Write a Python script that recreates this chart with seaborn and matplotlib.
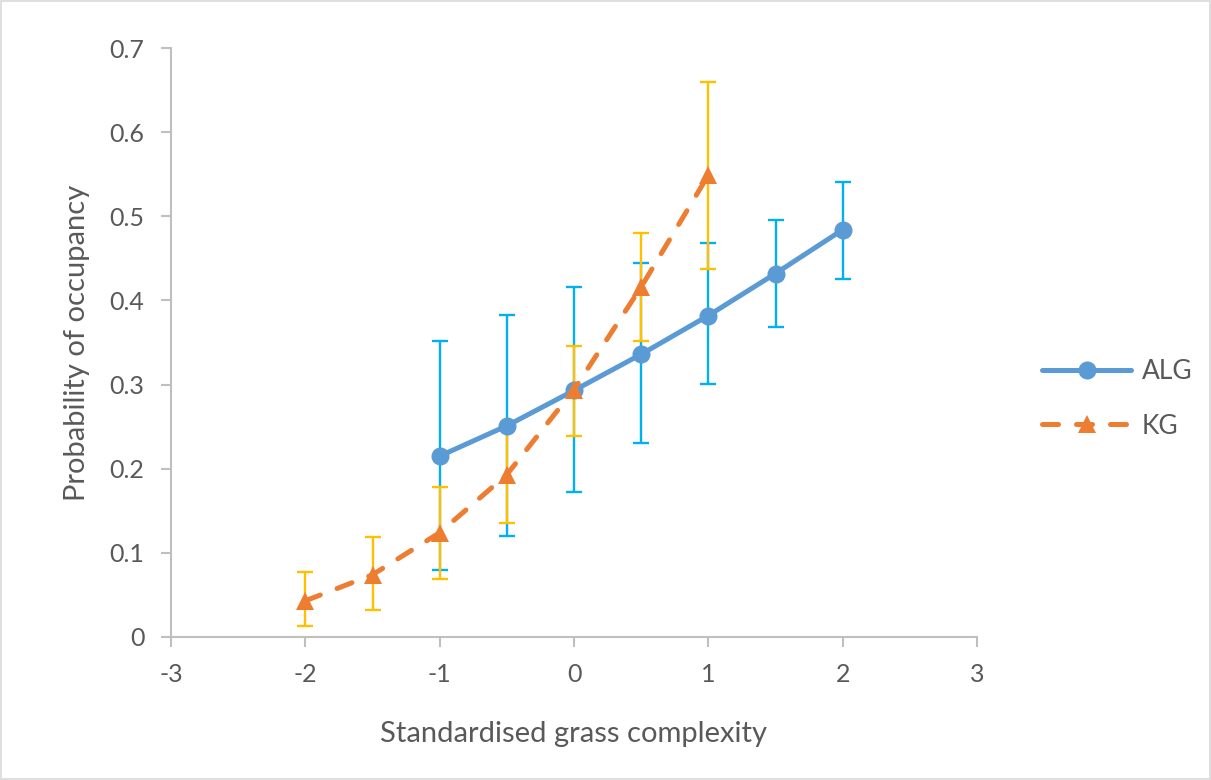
import pandas as pd
import seaborn as sns
import matplotlib.pyplot as plt
from matplotlib.patches import Rectangle

# values
alg_x = [-1, -0.5, 0, 0.5, 1, 1.5, 2]
alg_y = [0.215, 0.251, 0.293, 0.336, 0.382, 0.432, 0.484]
alg_lo = [0.080, 0.120, 0.172, 0.230, 0.301, 0.368, 0.425]
alg_hi = [0.352, 0.383, 0.416, 0.444, 0.468, 0.496, 0.541]

kg_x = [-2, -1.5, -1, -0.5, 0, 0.5, 1]
kg_y = [0.043, 0.074, 0.124, 0.193, 0.294, 0.416, 0.549]
kg_lo = [0.013, 0.032, 0.069, 0.136, 0.239, 0.352, 0.437]
kg_hi = [0.077, 0.119, 0.178, 0.250, 0.346, 0.480, 0.660]

x_ticks = [-3, -2, -1, 0, 1, 2, 3]
y_ticks = [0, 0.1, 0.2, 0.3, 0.4, 0.5, 0.6, 0.7]
y_ticklabels = ['0', '0.1', '0.2', '0.3', '0.4', '0.5', '0.6', '0.7']

alg = pd.DataFrame({'x': alg_x, 'y': alg_y, 'lo': alg_lo, 'hi': alg_hi})
kg = pd.DataFrame({'x': kg_x, 'y': kg_y, 'lo': kg_lo, 'hi': kg_hi})

sns.set_style('white')
plt.rcParams['font.family'] = ['Lato', 'DejaVu Sans']
plt.rcParams['lines.dash_capstyle'] = 'round'
plt.rcParams['lines.solid_capstyle'] = 'round'

text_col = '#595959'
axis_col = '#BFBFBF'

fig = plt.figure(figsize=(12.11, 7.8), dpi=100)
ax = fig.add_axes([171 / 1211, 143 / 780, 806 / 1211, 589 / 780])

# error bars first, like Excel draws them
ax.errorbar(alg['x'], alg['y'], yerr=[alg['y'] - alg['lo'], alg['hi'] - alg['y']],
            fmt='none', ecolor='#00B0F0', elinewidth=1.7, capsize=5.5, capthick=1.7, zorder=1)
ax.errorbar(kg['x'], kg['y'], yerr=[kg['y'] - kg['lo'], kg['hi'] - kg['y']],
            fmt='none', ecolor='#FFC000', elinewidth=1.7, capsize=5.5, capthick=1.7, zorder=2)

sns.lineplot(data=alg, x='x', y='y', ax=ax, color='#5B9BD5', linewidth=3.6,
             marker='o', markersize=13, markeredgewidth=0, label='ALG', zorder=3)
sns.lineplot(data=kg, x='x', y='y', ax=ax, color='#ED7D31', linewidth=3.6,
             marker='^', markersize=13, markeredgewidth=0, label='KG', zorder=4)
ax.lines[-1].set_dashes((3.2, 3.6))

ax.set_xlim(-3, 3)
ax.set_ylim(0, 0.7)
ax.set_xticks(x_ticks)
ax.set_xticklabels([str(t) for t in x_ticks])
ax.set_yticks(y_ticks)
ax.set_yticklabels(y_ticklabels)

for side in ['top', 'right']:
    ax.spines[side].set_visible(False)
for side in ['left', 'bottom']:
    ax.spines[side].set_color(axis_col)
    ax.spines[side].set_linewidth(1.5)

ax.tick_params(axis='both', colors=axis_col, labelcolor=text_col, labelsize=18,
               length=7, width=1.5, direction='out', left=True, bottom=True)
ax.tick_params(axis='x', pad=12)
ax.tick_params(axis='y', pad=12)

ax.set_xlabel('Standardised grass complexity', fontsize=21, color=text_col, labelpad=25)
ax.set_ylabel('Probability of occupancy', fontsize=21, color=text_col, labelpad=14)

handles, labels = ax.get_legend_handles_labels()
ax.legend(handles, labels, loc='center left', bbox_to_anchor=(1018 / 1211, 1 - 399 / 780),
          bbox_transform=fig.transFigure, frameon=False, fontsize=19, handlelength=3.4,
          labelspacing=1.1, labelcolor=text_col, handletextpad=0.4)

fig.patches.append(Rectangle((0.0008, 0.001), 0.998, 0.998, transform=fig.transFigure,
                             fill=False, edgecolor='#D9D9D9', linewidth=1.2))

fig.savefig('out.png', dpi=100)
